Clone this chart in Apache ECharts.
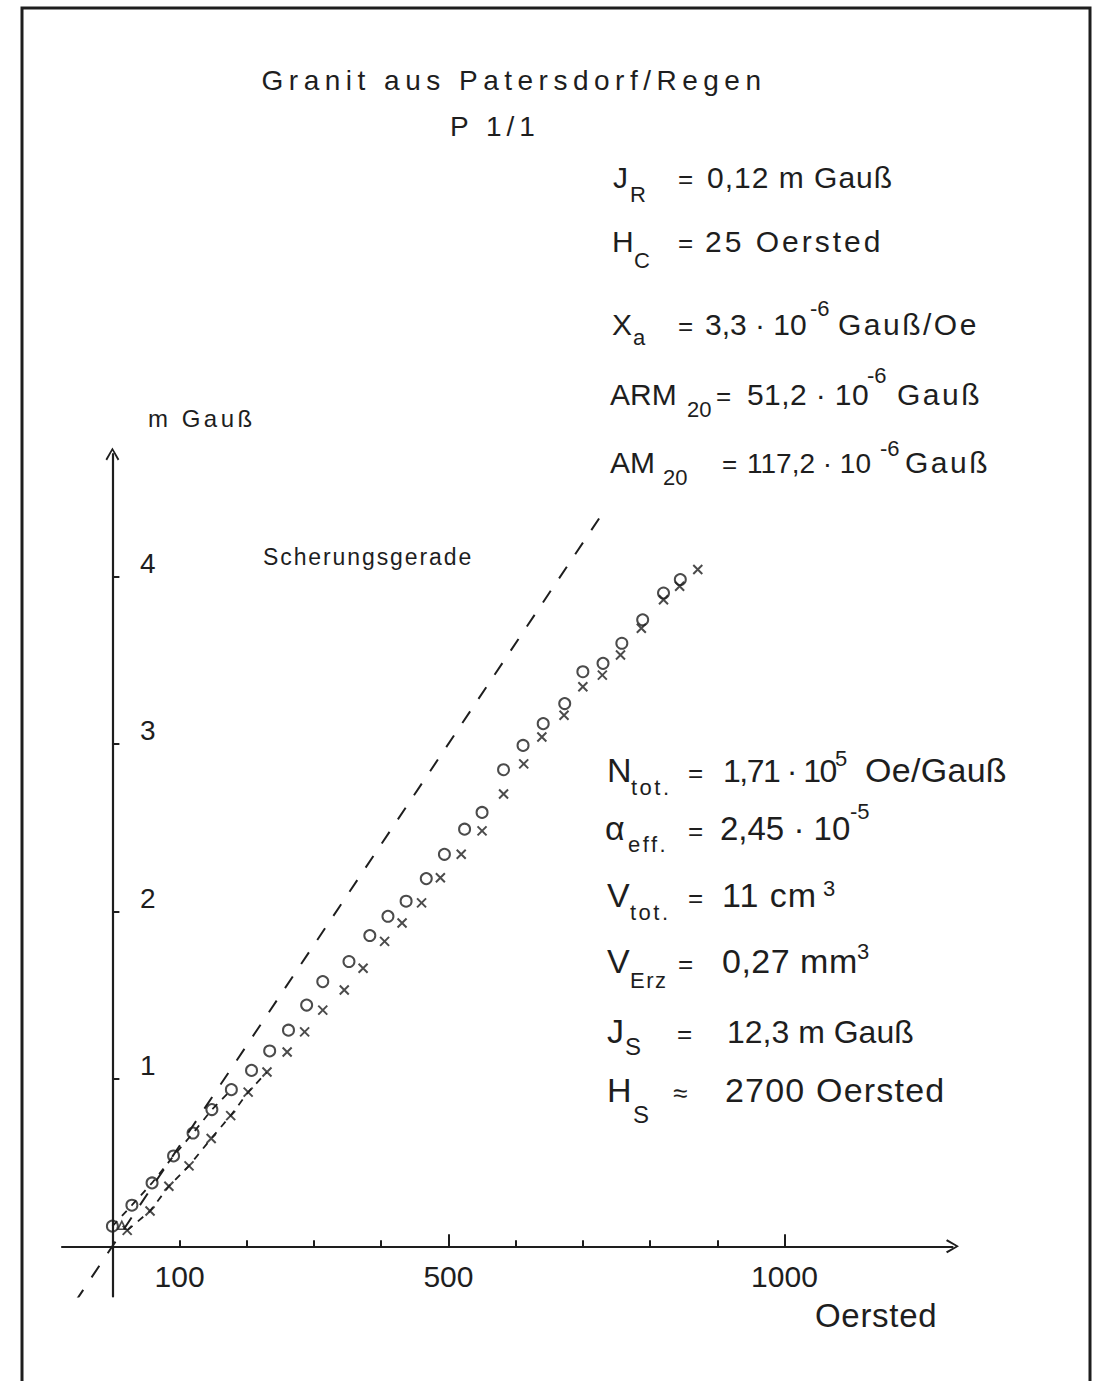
<!DOCTYPE html>
<html>
<head>
<meta charset="utf-8">
<script src="https://cdn.jsdelivr.net/npm/echarts@6/dist/echarts.min.js"></script>
<style>
html,body{margin:0;padding:0;background:#fff;}
#chart{width:1096px;height:1381px;}
</style>
</head>
<body>
<div id="chart"></div>
<script>
// ---------------- data ----------------
// circles (o): field H in Oersted, magnetisation J in mGauss
const circleH = [0, 29, 59, 91, 120, 148, 177, 207, 234, 262, 289, 313, 352, 383, 410, 437, 467, 494, 524, 550, 582, 611, 641, 673, 700, 730, 758, 789, 820, 845];
const circleJ = [0.12, 0.245, 0.378, 0.539, 0.676, 0.816, 0.935, 1.05, 1.166, 1.29, 1.44, 1.58, 1.70, 1.855, 1.97, 2.06, 2.195, 2.34, 2.49, 2.59, 2.845, 2.99, 3.12, 3.24, 3.43, 3.48, 3.60, 3.74, 3.90, 3.98];
// crosses (x)
const crossH = [22, 56, 84, 114, 147, 176, 202, 230, 260, 286, 313, 345, 373, 405, 431, 460, 488, 519, 550, 582, 612, 639, 672, 700, 729, 756, 787, 820, 844, 871];
const crossJ = [0.095, 0.21, 0.358, 0.48, 0.643, 0.78, 0.92, 1.04, 1.16, 1.28, 1.41, 1.53, 1.66, 1.82, 1.93, 2.05, 2.20, 2.34, 2.48, 2.70, 2.88, 3.04, 3.17, 3.34, 3.41, 3.53, 3.69, 3.86, 3.94, 4.04];
// small triangle mark near the origin
const triangleH = [14];
const triangleJ = [0.125];
// Scherungsgerade (shearing line) end points
const shearH = [-55, 730];
const shearJ = [-0.33, 4.38];
// number of low-field points joined by short dashes
const circleJoinedCount = 7;
const crossJoinedCount = 8;

// axis ticks / labels
const xTickValues = [100, 200, 300, 400, 500, 600, 700, 800, 900, 1000];
const xMajorTickValues = [500, 1000];
const xLabelValues = [100, 500, 1000];
const yTickValues = [1, 2, 3, 4];
const yLabelValues = [1, 2, 3, 4];
const X_MIN = -75, X_MAX = 1250;
const Y_MIN = -0.3, Y_MAX = 4.73;

// ---------------- texts ----------------
const titleText = 'Granit aus Patersdorf/Regen';
const subTitleText = 'P 1/1';
const yAxisName = 'm Gauß';
const xAxisName = 'Oersted';
const shearLabel = 'Scherungsgerade';

// [text, x, baseline, fontSize, align]
const textLayout = [
  [titleText, 514, 90, 28, 'center'],
  [subTitleText, 450, 136, 28, 'left'],
  ['J', 613, 188, 30], ['R', 630, 202, 22], ['=', 678, 188, 26], ['0,12 m Gauß', 707, 188, 30],
  ['H', 612, 252, 30], ['C', 634, 268, 22], ['=', 678, 252, 26], ['25 Oersted', 705, 252, 30],
  ['X', 612, 335, 30], ['a', 633, 345, 22], ['=', 678, 335, 26], ['3,3 · 10', 705, 335, 30], ['-6', 810, 316, 22], ['Gauß/Oe', 838, 335, 30],
  ['ARM', 610, 405, 30], ['20', 687, 417, 22], ['=', 716, 405, 26], ['51,2 · 10', 747, 405, 30], ['-6', 867, 383, 22], ['Gauß', 897, 405, 30],
  ['AM', 610, 473, 30], ['20', 663, 485, 22], ['=', 722, 473, 26], ['117,2 · 10', 747, 473, 28], ['-6', 880, 456, 22], ['Gauß', 905, 473, 30],
  ['N', 607, 782, 34], ['tot.', 631, 795, 22], ['=', 688, 782, 26], ['1,71 · 10', 723, 782, 32], ['5', 835, 766, 22], ['Oe/Gauß', 865, 782, 34],
  ['α', 605, 840, 34], ['eff.', 628, 852, 22], ['=', 688, 840, 26], ['2,45 · 10', 720, 840, 33], ['-5', 850, 819, 22],
  ['V', 607, 907, 34], ['tot.', 630, 920, 22], ['=', 688, 907, 26], ['11 cm', 722, 907, 34], ['3', 823, 896, 22],
  ['V', 607, 973, 34], ['Erz', 630, 988, 22], ['=', 678, 973, 26], ['0,27 mm', 722, 973, 34], ['3', 857, 959, 22],
  ['J', 607, 1043, 34], ['S', 625, 1055, 24], ['=', 677, 1043, 26], ['12,3 m Gauß', 727, 1043, 32],
  ['H', 607, 1102, 34], ['S', 633, 1123, 24], ['≈', 673, 1102, 26], ['2700 Oersted', 725, 1102, 34],
  [shearLabel, 263, 565, 23],
  [yAxisName, 148, 427, 24],
  [xAxisName, 815, 1327, 33]
];
// stencil lettering is spaced out: extra letter spacing (px) per text
const letterSpacing = {
  'Granit aus Patersdorf/Regen': 5.5, 'P 1/1': 5,
  '0,12 m Gauß': 1, '25 Oersted': 3, 'Gauß/Oe': 2.5, '51,2 · 10': 0.4, 'Gauß': 2.5,
  'tot.': 2.5, 'eff.': 2.5, 'Erz': 1.5, '1,71 · 10': -1.5, 'Oe/Gauß': 0.3, '11 cm': 1,
  '0,27 mm': 0.5, '2700 Oersted': 1.2, 'Scherungsgerade': 1.9, 'm Gauß': 3.5, 'Oersted': 0.7
};

const INK = '#1e1e1e';
const FONT = "'Liberation Sans', Arial, sans-serif";
const ARROW = 'path://M0,12 L7,0 L14,12 L12.4,13.2 L7,3.4 L1.6,13.2 Z';

function zip(a, b) { return a.map((v, i) => [v, b[i]]); }

const graphics = [{
  type: 'rect', silent: true, z: 0,
  shape: { x: 22, y: 8, width: 1068, height: 1420 },
  style: { fill: 'none', stroke: INK, lineWidth: 3 }
}];
textLayout.forEach(function (d) {
  const fs = d[3];
  graphics.push({
    type: 'text', silent: true, z: 10,
    x: d[1], y: d[2] - 0.35 * fs,
    style: {
      text: d[0], fill: INK, font: fs + 'px ' + FONT,
      align: d[4] || 'left', verticalAlign: 'middle',
      textAlign: d[4] || 'left', textVerticalAlign: 'middle'
    }
  });
});

const axisLineStyle = { color: INK, width: 2.2 };
const el = document.getElementById('chart');
const chart = echarts.init(el, null, { renderer: 'svg' });
chart.setOption({
  animation: false,
  backgroundColor: '#ffffff',
  grid: { left: 62, right: 143.5, top: 454, bottom: 84.5, containLabel: false },
  xAxis: [{
    type: 'value', min: X_MIN, max: X_MAX,
    axisLine: { onZero: true, onZeroAxisIndex: 0, lineStyle: axisLineStyle, symbol: ['none', ARROW], symbolSize: [14, 13] },
    axisTick: { show: true, inside: true, length: 6, lineStyle: { color: INK, width: 2 }, customValues: xTickValues },
    axisLabel: { show: true, customValues: xLabelValues, margin: -35.5, fontSize: 30, lineHeight: 30, fontFamily: FONT, color: INK,
      formatter: function (v) { return String(v); } },
    splitLine: { show: false }
  }, {
    type: 'value', min: X_MIN, max: X_MAX, position: 'bottom',
    axisLine: { show: false, onZero: true, onZeroAxisIndex: 0 },
    axisTick: { show: true, inside: true, length: 12, lineStyle: { color: INK, width: 2 }, customValues: xMajorTickValues },
    axisLabel: { show: false },
    splitLine: { show: false }
  }],
  yAxis: [{
    type: 'value', min: Y_MIN, max: Y_MAX,
    axisLine: { onZero: true, onZeroAxisIndex: 0, lineStyle: axisLineStyle, symbol: ['none', ARROW], symbolSize: [14, 13] },
    axisTick: { show: true, inside: true, length: 7, lineStyle: { color: INK, width: 2 }, customValues: yTickValues },
    axisLabel: { show: true, inside: true, margin: 78, customValues: yLabelValues, fontSize: 28, lineHeight: 26, verticalAlign: 'bottom', align: 'left', fontFamily: FONT, color: INK },
    splitLine: { show: false }
  }],
  series: [
    {
      name: 'Scherungsgerade', type: 'line', data: zip(shearH, shearJ), showSymbol: false, silent: true,
      lineStyle: { color: INK, width: 2, type: [14, 15] }, z: 2
    },
    {
      name: 'o join', type: 'line', data: zip(circleH, circleJ).slice(0, circleJoinedCount), showSymbol: false, silent: true,
      lineStyle: { color: INK, width: 1.8, type: [7, 7] }, z: 2
    },
    {
      name: 'x join', type: 'line', data: zip(crossH, crossJ).slice(0, crossJoinedCount), showSymbol: false, silent: true,
      lineStyle: { color: INK, width: 1.8, type: [7, 7] }, z: 2
    },
    {
      name: 'o', type: 'scatter', data: zip(circleH, circleJ), symbol: 'circle', symbolSize: 11,
      itemStyle: { color: 'rgba(255,255,255,0)', borderColor: INK, borderWidth: 2 }, z: 3
    },
    {
      name: 'x', type: 'scatter', data: zip(crossH, crossJ), symbol: 'path://M0,0 L10,10 M10,0 L0,10', symbolSize: 9,
      itemStyle: { color: 'rgba(255,255,255,0)', borderColor: INK, borderWidth: 2 }, z: 3
    },
    {
      name: 'triangle', type: 'scatter', data: zip(triangleH, triangleJ), symbol: 'triangle', symbolSize: 8,
      itemStyle: { color: 'rgba(255,255,255,0)', borderColor: INK, borderWidth: 1.6 }, z: 3
    }
  ],
  graphic: graphics
});

function applySpacing() {
  el.querySelectorAll('text').forEach(function (t) {
    const ls = letterSpacing[t.textContent];
    if (ls) t.style.letterSpacing = ls + 'px';
  });
}
applySpacing();
chart.on('finished', applySpacing);
</script>
</body>
</html>
